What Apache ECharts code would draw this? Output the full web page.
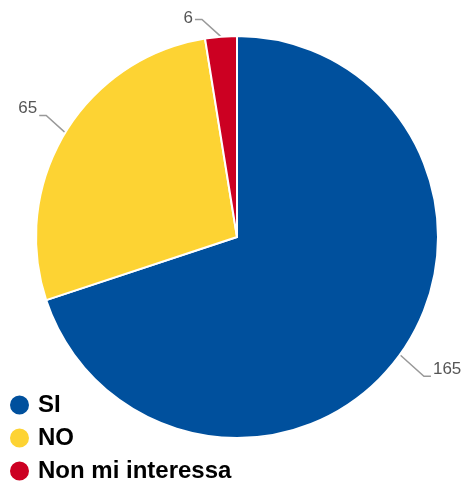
<!DOCTYPE html>
<html><head><meta charset="utf-8">
<script src="https://cdn.jsdelivr.net/npm/echarts@6/dist/echarts.min.js"></script>
<style>html,body{margin:0;padding:0;background:#fff}#c{width:466px;height:481px}</style>
</head><body><div id="c"></div>
<script>
const categories = ["SI", "NO", "Non mi interessa"];
const values = [165, 65, 6];
const colors = ["#00509d", "#fdd333", "#cc0022"];

const CX = 237, CY = 237;
const chart = echarts.init(document.getElementById('c'));
chart.setOption({
  animation: false,
  color: colors,
  legend: {
    orient: 'vertical', left: 8, bottom: -2, padding: 0,
    icon: 'circle', itemWidth: 21, itemHeight: 21, itemGap: 9,
    textStyle: { fontFamily: 'Liberation Sans, Arial, sans-serif', fontSize: 24, fontWeight: 'bold', color: '#000', lineHeight: 24, padding: [0, 0, 0, 3] },
    data: categories
  },
  series: [{
    type: 'pie',
    center: [CX, CY],
    radius: 201,
    startAngle: 90,
    clockwise: true,
    itemStyle: { borderColor: '#fff', borderWidth: 2 },
    label: { formatter: '{c}', overflow: 'none', fontFamily: 'Liberation Sans, Arial, sans-serif', fontSize: 17, color: '#555' },
    labelLine: { length: 20, length2: 8, lineStyle: { color: '#999', width: 1.5 } },
    data: categories.map((n, i) => ({ name: n, value: values[i] })),
    labelLayout: function (p) {
      const pts = p.labelLinePoints;
      if (!pts) return {};
      const p0 = pts[0];
      const sx = p0[0] >= CX ? 1 : -1;
      const sy = p0[1] >= CY ? 1 : -1;
      const d = sy > 0 ? 24 : 19;
      const p1 = [p0[0] + sx * d, p0[1] + sy * d * 0.9];
      const p2 = [p1[0] + sx * 7, p1[1]];
      return {
        x: p2[0] + sx * 2,
        y: Math.max(p2[1] - 7, 18),
        align: sx > 0 ? 'left' : 'right',
        verticalAlign: 'middle',
        labelLinePoints: [p0, p1, p2]
      };
    }
  }]
});
</script></body></html>
